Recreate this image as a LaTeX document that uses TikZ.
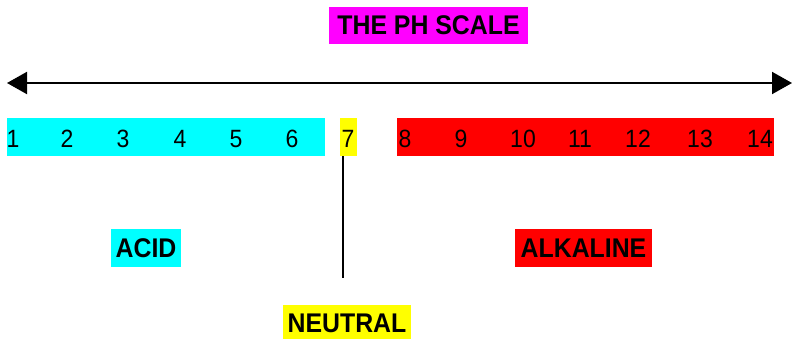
\documentclass[tikz,border=0pt]{standalone}
\usepackage{fontspec}
\setmainfont{Liberation Sans}[FakeStretch=0.92]
\usetikzlibrary{arrows.meta, positioning}
\definecolor{aqua}{RGB}{0,255,255}
\definecolor{fuchsia}{RGB}{255,0,255}
\definecolor{lemon}{RGB}{255,255,0}
\definecolor{pured}{RGB}{255,0,0}

\begin{document}
\begin{tikzpicture}[x=1pt, y=-1pt,
   tag/.style = {fill=#1, inner sep=0pt, minimum height=38pt,
      font=\bfseries\fontsize{27}{27}\selectfont},
   bar/.style = {fill=#1, inner sep=0pt, minimum height=38pt},
   num/.style = {inner sep=0pt, font=\fontsize{25}{25}\selectfont},
   >={Triangle[length=20pt, width=22pt]}]
   \useasboundingbox (0,0) rectangle (792,339);

   \node[tag=fuchsia, minimum width=199pt, minimum height=37pt] (title) at (428.5,25.5) {THE PH SCALE};

   % the scale
   \coordinate (left) at (7,83);
   \coordinate (right) at (792,83);
   \draw[<->, line width=2pt] (left) -- (right);

   \node[bar=aqua, minimum width=318pt] (acidbar) at (166,137) {};
   \node[bar=lemon, minimum width=17pt] (seven) at (348.5,137) {};
   \node[bar=pured, minimum width=377pt] (alkbar) at (585.5,137) {};

   \foreach \n/\x in {1/13, 2/67, 3/123, 4/180, 5/236, 6/292, 7/348,
      8/405, 9/461, 10/523, 11/580, 12/638, 13/700, 14/760}
      \node[num] (n\n) at (\x,139) {\n};

   \coordinate (tail) at (343,278);
   \draw[line width=1.5pt] (tail |- seven.south) -- (tail);

   \node[tag=aqua, minimum width=70pt] (acid) at (146,248) {ACID};
   \node[tag=pured, minimum width=137pt] (alkaline) at (583.5,248) {ALKALINE};
   \node[tag=lemon, minimum width=128pt] (neutral) at (347,323.5) {NEUTRAL};

\end{tikzpicture}
\end{document}
